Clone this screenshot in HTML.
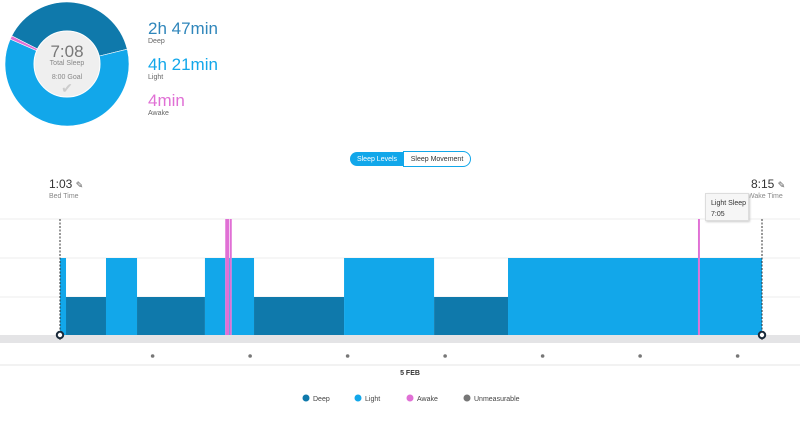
<!DOCTYPE html>
<html><head><meta charset="utf-8"><style>
body{margin:0;width:800px;height:421px;background:#fff;font-family:"Liberation Sans",sans-serif;overflow:hidden;position:relative}
.a{position:absolute}
</style></head><body>
<svg class="a" style="left:0;top:0" width="800" height="421" id="svg">
</svg>
<div class="a" style="left:148px;top:19px;font-size:17px;color:#2f86bb">2h 47min</div>
<div class="a" style="left:148px;top:38px;font-size:7px;color:#666">Deep</div>
<div class="a" style="left:148px;top:55px;font-size:17px;color:#12a7ea">4h 21min</div>
<div class="a" style="left:148px;top:74px;font-size:7px;color:#666">Light</div>
<div class="a" style="left:148px;top:91px;font-size:17px;color:#e070d5">4min</div>
<div class="a" style="left:148px;top:110px;font-size:7px;color:#666">Awake</div>
<div class="a" style="left:37px;top:42px;width:60px;text-align:center;font-size:17px;color:#777">7:08</div>
<div class="a" style="left:37px;top:60px;width:60px;text-align:center;font-size:7px;color:#888">Total Sleep</div>
<div class="a" style="left:37px;top:74px;width:60px;text-align:center;font-size:7px;color:#888">8:00 Goal</div>
<div class="a" style="left:37px;top:80px;width:60px;text-align:center;font-size:14px;color:#ccc">✔</div>
<div class="a" style="left:350px;top:152px;width:54px;height:14px;background:#12a7ea;border-radius:7px 0 0 7px;color:#fff;font-size:7px;line-height:15px;text-align:center">Sleep Levels</div>
<div class="a" style="left:403px;top:151px;width:66px;height:14px;border:1px solid #12a7ea;border-radius:0 8px 8px 0;color:#333;font-size:7px;line-height:15px;text-align:center">Sleep Movement</div>
<div class="a" style="left:49px;top:177px;font-size:12px;color:#333">1:03 <span style="font-size:9px;color:#555">✎</span></div>
<div class="a" style="left:49px;top:193px;font-size:7px;color:#888">Bed Time</div>
<div class="a" style="left:751px;top:177px;font-size:12px;color:#333">8:15 <span style="font-size:9px;color:#555">✎</span></div>
<div class="a" style="left:748px;top:193px;font-size:7px;color:#888">Wake Time</div>
<div class="a" style="left:705px;top:193px;width:44px;height:28px;background:#f6f6f6;border:1px solid #ddd;box-shadow:1px 1px 2px #ccc;font-size:7px;color:#333;padding:4px 0 0 5px;box-sizing:border-box;line-height:11px">Light Sleep<br>7:05</div>
<div class="a" style="left:390px;top:370px;width:40px;text-align:center;font-size:7px;font-weight:bold;color:#333">5 FEB</div>
<script>
const stages=["L","D","L","D","L","A","L","A","L","D","L","D","L","A","L"];
const starts=[0,3.7,28.3,47.4,89.2,101.7,104,104.4,105.7,119.4,174.8,230.2,275.7,392.6,393.8];
const endMin=432;
const donutVals=[167,261,4];
const hourTicks=[57,117,177,237,297,357,417];
const svg=document.getElementById('svg');
const NS='http://www.w3.org/2000/svg';
const colors={D:'#0f79ab',L:'#12a7ea',A:'#e070d5'};
const tops={D:297,L:258,A:219};
const x=m=>60+m*(702/432);
function mk(t,a){const e=document.createElementNS(NS,t);for(const k in a)e.setAttribute(k,a[k]);svg.appendChild(e);return e;}
[219,258,297].forEach(y=>{const g=mk('line',{x1:0,x2:800,y1:y,y2:y,stroke:'#eee'});

});
const band=mk('rect',{x:0,y:335,width:800,height:8,fill:'#e4e4e6'});


const sep=mk('line',{x1:0,x2:800,y1:365,y2:365,stroke:'#e6e6e6'});


stages.forEach((s,i)=>{const a=x(starts[i]),b=x(i+1<starts.length?starts[i+1]:endMin);
const r=mk('rect',{x:a,y:tops[s],width:Math.max(b-a,0.5),height:335-tops[s],fill:colors[s]});

});
hourTicks.forEach(m=>{const c=mk('circle',{cx:x(m),cy:356,r:1.8,fill:'#777'});

});
[0,endMin].forEach(m=>{const l=mk('line',{x1:x(m),x2:x(m),y1:219,y2:341,stroke:'#333','stroke-dasharray':'2,1.5'});


const c=mk('circle',{cx:x(m),cy:335,r:3.2,fill:'#fff',stroke:'#1a2a3a','stroke-width':2});

});
const dc=['#0f79ab','#12a7ea','#e070d5'];const tot=donutVals.reduce((a,b)=>a+b,0);
let ang=-63*Math.PI/180;const cx=67,cy=64,R=62;
donutVals.forEach((v,i)=>{const a2=ang+v/tot*2*Math.PI;
const p=(a)=>[cx+R*Math.sin(a),cy-R*Math.cos(a)];const [x1,y1]=p(ang),[x2,y2]=p(a2);
const s=mk('path',{d:`M${cx},${cy}L${x1},${y1}A${R},${R} 0 ${a2-ang>Math.PI?1:0} 1 ${x2},${y2}Z`,fill:dc[i],stroke:'#fff','stroke-width':0.6});

ang=a2;});
const h=mk('circle',{cx:cx,cy:cy,r:33,fill:'#efefef',stroke:'#fff','stroke-width':1});


[['Deep','#0f79ab',306],['Light','#12a7ea',358],['Awake','#e070d5',410],['Unmeasurable','#777',467]].forEach(([t,c,lx])=>{
const d=mk('circle',{cx:lx,cy:398,r:3.5,fill:c});


const tx=mk('text',{x:lx+7,y:401,'font-size':7,fill:'#444','font-family':'Liberation Sans, sans-serif'});tx.textContent=t;

});
</script>
</body></html>
